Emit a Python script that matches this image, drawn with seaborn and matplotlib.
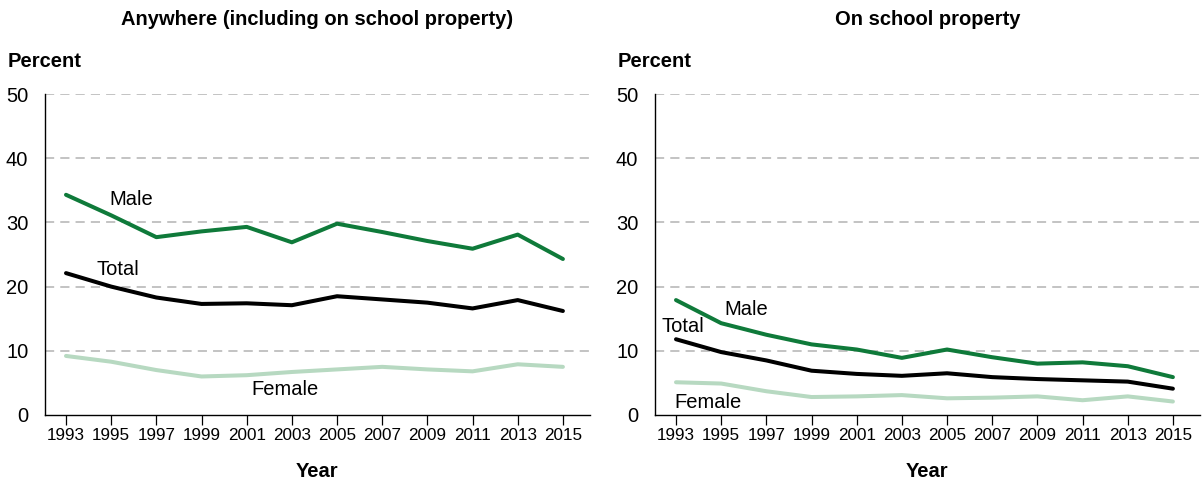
import numpy as np
import pandas as pd
import matplotlib
matplotlib.use("Agg")
import matplotlib.pyplot as plt
import seaborn as sns
from matplotlib import font_manager

years = [1993, 1995, 1997, 1999, 2001, 2003, 2005, 2007, 2009, 2011, 2013, 2015]

# Carried a weapon anywhere (including on school property), percent
anywhere_total = [22.1, 20.0, 18.3, 17.3, 17.4, 17.1, 18.5, 18.0, 17.5, 16.6, 17.9, 16.2]
anywhere_male = [34.3, 31.1, 27.7, 28.6, 29.3, 26.9, 29.8, 28.5, 27.1, 25.9, 28.1, 24.3]
anywhere_female = [9.2, 8.3, 7.0, 6.0, 6.2, 6.7, 7.1, 7.5, 7.1, 6.8, 7.9, 7.5]

# Carried a weapon on school property, percent
school_total = [11.8, 9.8, 8.5, 6.9, 6.4, 6.1, 6.5, 5.9, 5.6, 5.4, 5.2, 4.1]
school_male = [17.9, 14.3, 12.5, 11.0, 10.2, 8.9, 10.2, 9.0, 8.0, 8.2, 7.6, 5.9]
school_female = [5.1, 4.9, 3.7, 2.8, 2.9, 3.1, 2.6, 2.7, 2.9, 2.3, 2.9, 2.1]

panel_titles = ["Anywhere (including on school property)", "On school property"]
y_ticks = [0, 10, 20, 30, 40, 50]

sns.set_theme(style="white")
plt.rcParams["font.family"] = ["Liberation Sans", "DejaVu Sans"]
plt.rcParams["text.color"] = "#000000"

installed = {f.name for f in font_manager.fontManager.ttflist}
narrow = "Liberation Sans Narrow" if "Liberation Sans Narrow" in installed else "Liberation Sans"
tick_size = 14 if narrow == "Liberation Sans Narrow" else 12.3

palette = {"Male": "#0f7a3a", "Total": "#000000", "Female": "#b7d9c1"}


def long_form(total, male, female):
    rows = []
    for name, vals in (("Female", female), ("Total", total), ("Male", male)):
        for y, v in zip(years, vals):
            rows.append({"Year": y, "Percent": v, "Group": name})
    return pd.DataFrame(rows)


frames = [
    long_form(anywhere_total, anywhere_male, anywhere_female),
    long_form(school_total, school_male, school_female),
]

# series label positions (year, percent) for each panel
label_pos = [
    {"Male": (1995.9, 33.5), "Total": (1995.3, 22.6), "Female": (2002.7, 3.9)},
    {"Male": (1996.1, 16.4), "Total": (1993.3, 13.8), "Female": (1994.4, 1.9)},
]

fig = plt.figure(figsize=(12.04, 4.87), dpi=100)
ax_boxes = [
    [45 / 1204, 1 - 415 / 487, (590 - 45) / 1204, (415 - 94) / 487],
    [655 / 1204, 1 - 415 / 487, (1200 - 655) / 1204, (415 - 94) / 487],
]

FS = 14.5

for i, (df, box) in enumerate(zip(frames, ax_boxes)):
    ax = fig.add_axes(box)
    sns.lineplot(data=df, x="Year", y="Percent", hue="Group", palette=palette,
                 linewidth=2.9, ax=ax, legend=False, zorder=3)
    ax.set_ylim(0, 50)
    ax.set_xlim(1992.07, 2016.2)
    ax.set_yticks(y_ticks)
    ax.set_xticks(years)
    ax.set_xticklabels([str(y) for y in years], fontfamily=narrow, fontsize=tick_size)
    ax.set_yticklabels([str(t) for t in y_ticks], fontsize=FS)
    for t in y_ticks[1:]:
        ax.axhline(t, color="#b3b3b3", linewidth=1.1, linestyle=(0, (6, 4)), zorder=1)
    for side in ("top", "right"):
        ax.spines[side].set_visible(False)
    for side in ("left", "bottom"):
        ax.spines[side].set_color("#000000")
        ax.spines[side].set_linewidth(1.0)
    ax.tick_params(axis="x", direction="out", length=7, width=0.9, color="#000000",
                   bottom=True, pad=2, labelcolor="#000000")
    ax.tick_params(axis="y", left=False, pad=6, labelcolor="#000000")
    ax.set_xlabel("Year", fontsize=FS, fontweight="bold", labelpad=14, color="#000000")
    ax.set_ylabel("")
    ax.grid(False)
    ax.text(-0.068, 1.1, "Percent", transform=ax.transAxes, fontsize=FS,
            fontweight="bold", ha="left", va="center", color="#000000")
    ax.set_title(panel_titles[i], fontsize=FS, fontweight="bold", pad=50, color="#000000")
    for name, (x, y) in label_pos[i].items():
        ax.text(x, y, name, fontsize=FS, ha="center", va="center", color="#000000",
                zorder=4)

fig.savefig("out.png", dpi=100)
